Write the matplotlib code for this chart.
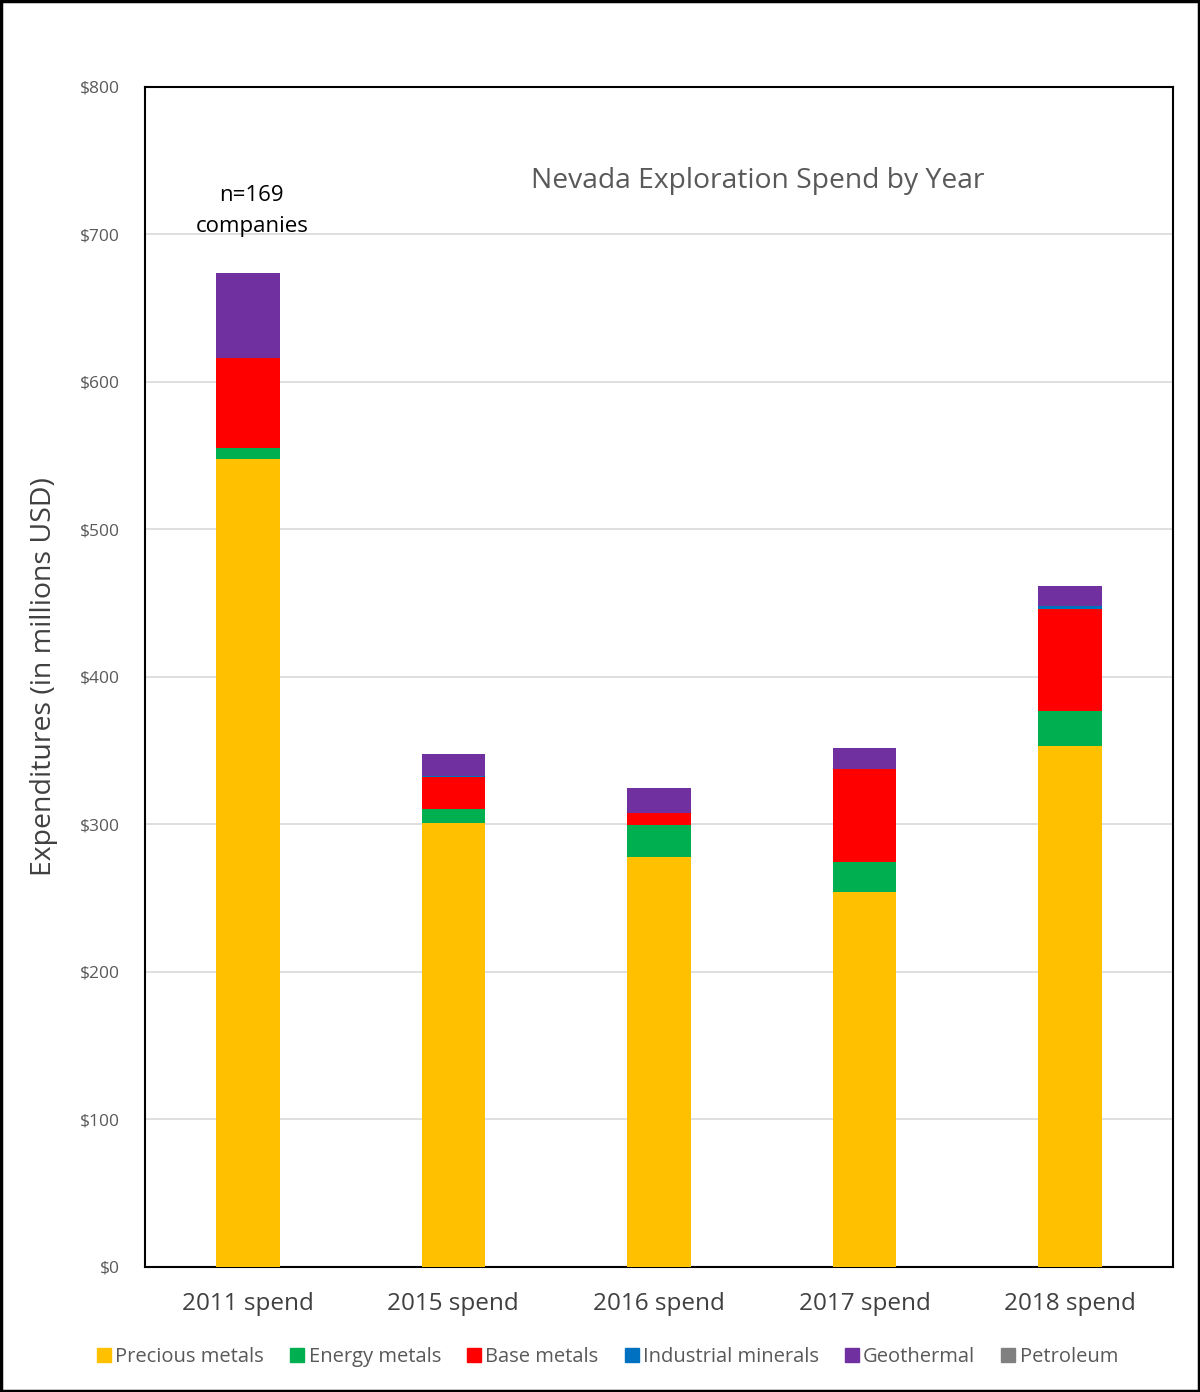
import matplotlib
matplotlib.use("Agg")
import matplotlib.pyplot as plt
from matplotlib.patches import Rectangle
from matplotlib.lines import Line2D

categories = ["2011 spend", "2015 spend", "2016 spend", "2017 spend", "2018 spend"]
series_names = ["Precious metals", "Energy metals", "Base metals", "Industrial minerals", "Geothermal", "Petroleum"]
precious = [548, 301, 278, 254, 353]
energy = [7, 9.5, 21.4, 20.3, 23.7]
base = [61, 22, 8.4, 63.3, 69.7]
industrial = [0.4, 0.3, 0.3, 0.3, 2.0]
geothermal = [57.5, 15, 16.4, 14, 13]
petroleum = [0.3, 0, 0, 0, 0.3]
colors = ["#FFC000", "#00B050", "#FF0000", "#0070C0", "#7030A0", "#808080"]
yticks = [0, 100, 200, 300, 400, 500, 600, 700, 800]

plt.rcParams['font.family'] = ['Open Sans', 'DejaVu Sans']

fig = plt.figure(figsize=(12, 13.92), dpi=100)
ax = fig.add_axes([0.1208, 0.0898, 0.8567, 0.8477])

x = list(range(len(categories)))
bottom = [0.0] * len(categories)
series = [precious, energy, base, industrial, geothermal, petroleum]
for vals, c, name in zip(series, colors, series_names):
    ax.bar(x, vals, width=0.31, bottom=bottom, color=c, label=name, zorder=3)
    bottom = [b + v for b, v in zip(bottom, vals)]

ax.set_ylim(0, 800)
ax.set_xlim(-0.5, len(categories) - 0.5)
ax.set_yticks(yticks)
ax.set_yticklabels([f"${v}" for v in yticks], color="#595959", fontsize=12.5)
ax.set_xticks(x)
ax.set_xticklabels(categories, fontsize=17.5, color="#404040")
ax.tick_params(axis='both', length=0)
ax.tick_params(axis='x', pad=18)
ax.tick_params(axis='y', pad=18)
ax.grid(axis='y', color="#D9D9D9", linewidth=1.2, zorder=0)
for s in ax.spines.values():
    s.set_color("black")
    s.set_linewidth(1.5)

ax.set_ylabel("Expenditures (in millions USD)", fontsize=20.5, color="#404040", labelpad=16)
ax.text(0.596, 0.92, "Nevada Exploration Spend by Year", transform=ax.transAxes,
        ha="center", va="center", fontsize=20.3, color="#595959")
ax.text(0.02, 716, "n=169\ncompanies", ha="center", va="center", fontsize=16,
        color="black", linespacing=1.65)

handles = [Line2D([0], [0], marker='s', linestyle='none', markersize=10,
                  markerfacecolor=c, markeredgecolor=c) for c in colors]
fig.legend(handles, series_names, loc="center", bbox_to_anchor=(0.503, 1 - 1357 / 1392),
           ncol=6, frameon=False, fontsize=14.5, handletextpad=-0.2, columnspacing=0.9,
           handlelength=1.5, labelcolor="#595959")

fig.patches.append(Rectangle((0.001, 0.001), 0.998, 0.998, transform=fig.transFigure,
                             fill=False, edgecolor="black", linewidth=2.5))

fig.savefig("out.png", dpi=100, facecolor="white")
